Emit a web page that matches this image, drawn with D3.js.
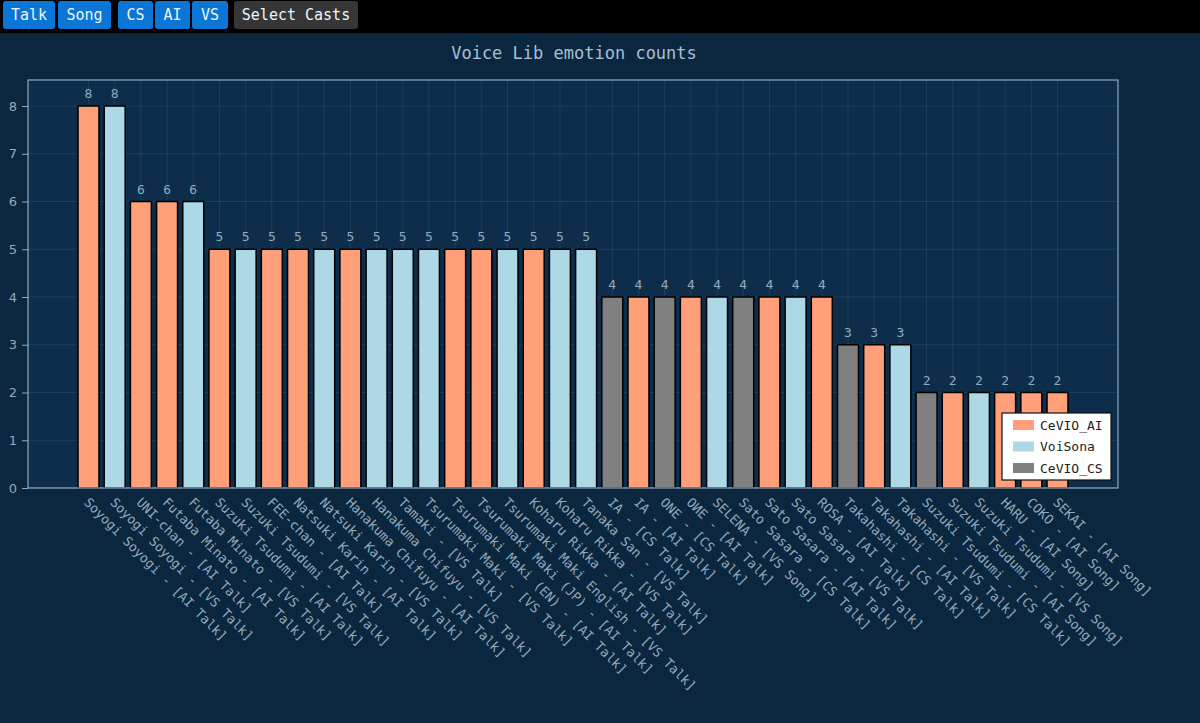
<!DOCTYPE html>
<html lang="en">
<head>
    <meta charset="UTF-8">
    <title>Voice Lib emotion counts</title>
    <script src="https://d3js.org/d3.v7.min.js"></script>
    <style>
        body {
            margin: 0;
            width: 1200px;
            height: 723px;
            overflow: hidden;
            background: #0b2740;
            font-family: "DejaVu Sans Mono", monospace;
        }
        #toolbar {
            position: absolute;
            left: 0;
            top: 0;
            width: 1200px;
            height: 33px;
            background: #000;
            z-index: 2;
        }
        .btn {
            position: absolute;
            top: 1px;
            height: 28px;
            line-height: 28px;
            border-radius: 3px;
            color: #eef4fb;
            font-size: 15px;
            text-align: center;
            background: #0b76d6;
        }
        .btn.dark { background: #363636; }
        #chart {
            position: absolute;
            left: 0;
            top: 0;
        }
        .tick-label, .value-label, .x-label {
            font-size: 13px;
            fill: #93a9bd;
        }
        .title {
            font-size: 17px;
            fill: #a9bfd3;
        }
        .legend text {
            font-size: 13px;
            fill: #222;
        }
    </style>
</head>
<body>

<div id="toolbar">
    <div class="btn" style="left:3px;width:52px">Talk</div>
    <div class="btn" style="left:58px;width:53px">Song</div>
    <div class="btn" style="left:118px;width:35px">CS</div>
    <div class="btn" style="left:155px;width:35px">AI</div>
    <div class="btn" style="left:192px;width:36px">VS</div>
    <div class="btn dark" style="left:234px;width:124px">Select Casts</div>
</div>

<svg id="chart" width="1200" height="723"></svg>

<script>
    const names = [
        'Soyogi Soyogi - [AI Talk]', 'Soyogi Soyogi - [VS Talk]', 'UNI-chan - [AI Talk]',
        'Futaba Minato - [AI Talk]', 'Futaba Minato - [VS Talk]', 'Suzuki Tsudumi - [AI Talk]',
        'Suzuki Tsudumi - [VS Talk]', 'FEE-chan - [AI Talk]', 'Natsuki Karin - [AI Talk]',
        'Natsuki Karin - [VS Talk]', 'Hanakuma Chifuyu - [AI Talk]', 'Hanakuma Chifuyu - [VS Talk]',
        'Tamaki - [VS Talk]', 'Tsurumaki Maki - [VS Talk]', 'Tsurumaki Maki (EN) - [AI Talk]',
        'Tsurumaki Maki (JP) - [AI Talk]', 'Tsurumaki Maki English - [VS Talk]', 'Koharu Rikka - [AI Talk]',
        'Koharu Rikka - [VS Talk]', 'Tanaka San - [VS Talk]', 'IA - [CS Talk]',
        'IA - [AI Talk]', 'ONE - [CS Talk]', 'OИE - [AI Talk]',
        'SELENA - [VS Song]', 'Sato Sasara - [CS Talk]', 'Sato Sasara - [AI Talk]',
        'Sato Sasara - [VS Talk]', 'ROSA - [AI Talk]', 'Takahashi - [CS Talk]',
        'Takahashi - [AI Talk]', 'Takahashi - [VS Talk]', 'Suzuki Tsudumi - [CS Talk]',
        'Suzuki Tsudumi - [AI Song]', 'Suzuki Tsudumi - [VS Song]', 'HARU - [AI Song]',
        'COKO - [AI Song]', 'SEKAI - [AI Song]'
    ];
    const counts = [8, 8, 6, 6, 6, 5, 5, 5, 5, 5, 5, 5, 5, 5, 5, 5, 5, 5, 5, 5,
                    4, 4, 4, 4, 4, 4, 4, 4, 4, 3, 3, 3, 2, 2, 2, 2, 2, 2];
    const engines = ['CeVIO_AI', 'VoiSona', 'CeVIO_AI', 'CeVIO_AI', 'VoiSona', 'CeVIO_AI',
                     'VoiSona', 'CeVIO_AI', 'CeVIO_AI', 'VoiSona', 'CeVIO_AI', 'VoiSona',
                     'VoiSona', 'VoiSona', 'CeVIO_AI', 'CeVIO_AI', 'VoiSona', 'CeVIO_AI',
                     'VoiSona', 'VoiSona', 'CeVIO_CS', 'CeVIO_AI', 'CeVIO_CS', 'CeVIO_AI',
                     'VoiSona', 'CeVIO_CS', 'CeVIO_AI', 'VoiSona', 'CeVIO_AI', 'CeVIO_CS',
                     'CeVIO_AI', 'VoiSona', 'CeVIO_CS', 'CeVIO_AI', 'VoiSona', 'CeVIO_AI',
                     'CeVIO_AI', 'CeVIO_AI'];
    const engineNames = ['CeVIO_AI', 'VoiSona', 'CeVIO_CS'];
    const engineColors = ['#ffa07a', '#add8e6', '#808080'];
    const yTicks = [0, 1, 2, 3, 4, 5, 6, 7, 8];

    const data = names.map((n, i) => ({ name: n, count: counts[i], engine: engines[i] }));

    const plot = { left: 28, right: 1118, top: 80, bottom: 488 };

    const svg = d3.select('#chart');

    const xScale = d3.scaleBand()
        .domain(names)
        .range([plot.left, plot.right])
        .paddingInner(0.2)
        .paddingOuter(1.91);
    const yScale = d3.scaleLinear()
        .domain([0, 8.545])
        .range([plot.bottom, plot.top]);
    const colorScale = d3.scaleOrdinal()
        .domain(engineNames)
        .range(engineColors);

    // plot background
    svg.append('rect')
        .attr('x', plot.left)
        .attr('y', plot.top)
        .attr('width', plot.right - plot.left)
        .attr('height', plot.bottom - plot.top)
        .attr('fill', '#0d2d4a');

    // grid
    svg.append('g')
        .selectAll('line')
        .data(names)
        .join('line')
        .attr('x1', d => xScale(d) + xScale.bandwidth() / 2)
        .attr('x2', d => xScale(d) + xScale.bandwidth() / 2)
        .attr('y1', plot.top)
        .attr('y2', plot.bottom)
        .attr('stroke', '#2a5676')
        .attr('stroke-opacity', 0.45)
        .attr('stroke-width', 1);
    svg.append('g')
        .selectAll('line')
        .data(yTicks)
        .join('line')
        .attr('x1', plot.left)
        .attr('x2', plot.right)
        .attr('y1', d => yScale(d))
        .attr('y2', d => yScale(d))
        .attr('stroke', '#2a5676')
        .attr('stroke-opacity', 0.45)
        .attr('stroke-width', 1);

    // bars
    svg.append('g')
        .selectAll('rect')
        .data(data)
        .join('rect')
        .attr('x', d => xScale(d.name))
        .attr('y', d => yScale(d.count))
        .attr('width', xScale.bandwidth())
        .attr('height', d => yScale(0) - yScale(d.count))
        .attr('fill', d => colorScale(d.engine))
        .attr('stroke', '#000')
        .attr('stroke-width', 1.5);

    // value labels
    svg.append('g')
        .selectAll('text')
        .data(data)
        .join('text')
        .attr('class', 'value-label')
        .attr('x', d => xScale(d.name) + xScale.bandwidth() / 2)
        .attr('y', d => yScale(d.count) - 8)
        .attr('text-anchor', 'middle')
        .text(d => d.count);

    // frame
    svg.append('rect')
        .attr('x', plot.left)
        .attr('y', plot.top)
        .attr('width', plot.right - plot.left)
        .attr('height', plot.bottom - plot.top)
        .attr('fill', 'none')
        .attr('stroke', '#8eaac2')
        .attr('stroke-width', 1.2);

    // y axis
    const yAxis = svg.append('g')
        .attr('transform', `translate(${plot.left},0)`)
        .call(d3.axisLeft(yScale).tickValues(yTicks).tickSize(6).tickPadding(5));
    yAxis.select('.domain').remove();
    yAxis.selectAll('line').attr('stroke', '#8eaac2');
    yAxis.selectAll('text')
        .attr('class', 'tick-label')
        .attr('fill', null)
        .style('font-family', '"DejaVu Sans", sans-serif')
        .style('font-size', '13px');

    // x labels
    const xAxis = svg.append('g')
        .attr('transform', `translate(0,${plot.bottom})`)
        .call(d3.axisBottom(xScale).tickSize(0).tickPadding(0));
    xAxis.select('.domain').remove();
    xAxis.selectAll('text')
        .attr('class', 'x-label')
        .attr('fill', null)
        .style('font-family', '"DejaVu Sans Mono", monospace')
        .style('font-size', '13px')
        .style('text-anchor', 'start')
        .attr('y', 0)
        .attr('dy', '0.35em')
        .attr('transform', 'translate(-2,12) rotate(45)');

    // title
    svg.append('text')
        .attr('class', 'title')
        .attr('x', 574)
        .attr('y', 59)
        .attr('text-anchor', 'middle')
        .text('Voice Lib emotion counts');

    // legend
    const legend = svg.append('g')
        .attr('class', 'legend')
        .attr('transform', 'translate(1002,413)');
    legend.append('rect')
        .attr('width', 109)
        .attr('height', 67)
        .attr('fill', '#fff')
        .attr('stroke', '#111')
        .attr('stroke-width', 1.2);
    const item = legend.selectAll('.item')
        .data(engineNames)
        .join('g')
        .attr('class', 'item')
        .attr('transform', (d, i) => `translate(11,${12 + i * 21.5})`);
    item.append('rect')
        .attr('y', -5)
        .attr('width', 21)
        .attr('height', 10)
        .attr('fill', d => colorScale(d));
    item.append('text')
        .attr('x', 27)
        .attr('dy', '0.35em')
        .text(d => d);
</script>

</body>
</html>
